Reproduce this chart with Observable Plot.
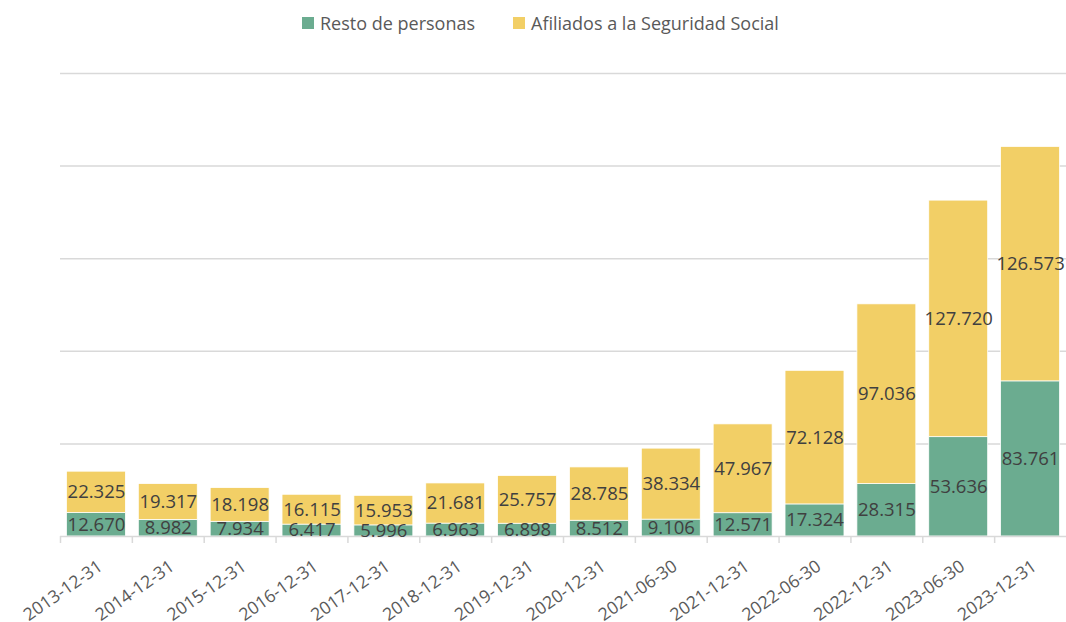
<!DOCTYPE html>
<html><head><meta charset="utf-8">
<script src="https://cdn.jsdelivr.net/npm/d3@7"></script>
<script src="https://cdn.jsdelivr.net/npm/@observablehq/plot@0.6"></script>
<style>
body{margin:0;background:#fff;font-family:"Open Sans",sans-serif;}
#legend{height:46px;position:relative;display:flex;align-items:center;padding-left:302px;box-sizing:border-box;color:#595959;font-size:18px;}
.item{display:flex;align-items:center;margin-right:38px;}
.sw{width:12px;height:12px;margin-right:6px;display:inline-block;}
</style></head><body><div id="legend"></div><div id="chart"></div>
<script>
const dates = ["2013-12-31","2014-12-31","2015-12-31","2016-12-31","2017-12-31","2018-12-31","2019-12-31","2020-12-31","2021-06-30","2021-12-31","2022-06-30","2022-12-31","2023-06-30","2023-12-31"];
const resto = [12670, 8982, 7934, 6417, 5996, 6963, 6898, 8512, 9106, 12571, 17324, 28315, 53636, 83761];
const afiliados = [22325, 19317, 18198, 16115, 15953, 21681, 25757, 28785, 38334, 47967, 72128, 97036, 127720, 126573];
const seriesNames = ["Resto de personas", "Afiliados a la Seguridad Social"];
const colors = ["#6bac90", "#f2cf66"];
const gridTicks = [50000, 100000, 150000, 200000, 250000];

const data = dates.flatMap((d, i) => [
  {date: d, serie: seriesNames[0], value: resto[i]},
  {date: d, serie: seriesNames[1], value: afiliados[i]}
]);
const fmt = d3.formatLocale({decimal: ",", thousands: ".", grouping: [3], currency: ["", "€"]}).format(",d");

const legend = document.getElementById("legend");
seriesNames.forEach((s, i) => {
  const it = document.createElement("span");
  it.className = "item";
  it.innerHTML = `<span class="sw" style="background:${colors[i]}"></span><span>${s}</span>`;
  legend.appendChild(it);
});

const W = 1066, H = 576, mL = 60, mR = 0, mT = 27, mB = 86;
const step = (W - mL - mR) / dates.length;

const chart = Plot.plot({
  width: W, height: H, marginLeft: mL, marginRight: mR, marginTop: mT, marginBottom: mB,
  style: {fontFamily: "Open Sans, sans-serif", background: "white"},
  x: {domain: dates, paddingInner: 0.18, paddingOuter: 0.09, round: false, label: null},
  y: {domain: [0, 250000], axis: null},
  color: {domain: seriesNames, range: colors},
  marks: [
    Plot.ruleY(gridTicks, {stroke: "#d9d9d9", strokeWidth: 1.5}),
    Plot.barY(data, {x: "date", y: "value", fill: "serie", order: seriesNames, stroke: "white", strokeWidth: 0.75}),
    Plot.ruleY([0], {stroke: "#d9d9d9", strokeWidth: 1.5}),
    Plot.axisX({tickSize: 7, tickFormat: () => "", label: null, dx: -step / 2, stroke: "#d9d9d9", strokeWidth: 1.5}),
    Plot.text(data, Plot.stackY({x: "date", y: "value", z: "serie", order: seriesNames, text: d => fmt(d.value), fill: "#404040", fontSize: 18.5})),
    Plot.text(dates, {x: d => d, frameAnchor: "bottom", dy: 28, dx: 4, rotate: -35, textAnchor: "end", lineAnchor: "middle", fill: "#595959", fontSize: 17.5})
  ]
});
document.getElementById("chart").appendChild(chart);
</script></body></html>
